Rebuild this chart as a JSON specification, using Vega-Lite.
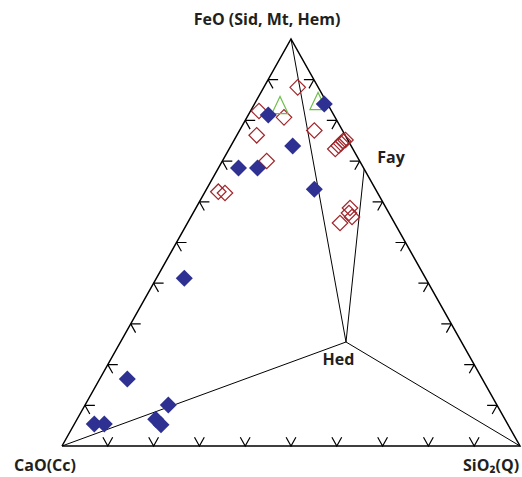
{
  "$schema": "https://vega.github.io/schema/vega-lite/v6.json",
  "width": 458,
  "height": 407,
  "autosize": {"type": "none"},
  "padding": {"left": 62, "top": 39, "right": 2, "bottom": 31},
  "background": "white",
  "config": {"view": {"stroke": null}},
  "datasets": {
    "lines": [
      {"seg": "tri", "ord": 0, "x": 0, "y": 0},
      {"seg": "tri", "ord": 1, "x": 50, "y": 100},
      {"seg": "tri", "ord": 2, "x": 100, "y": 0},
      {"seg": "tri", "ord": 3, "x": 0, "y": 0}
    ],
    "inner": [
      {"seg": "a", "ord": 0, "x": 50, "y": 100},
      {"seg": "a", "ord": 1, "x": 62.01, "y": 25.55},
      {"seg": "b", "ord": 0, "x": 65.97, "y": 68.06},
      {"seg": "b", "ord": 1, "x": 62.01, "y": 25.55},
      {"seg": "c", "ord": 0, "x": 0, "y": 0},
      {"seg": "c", "ord": 1, "x": 62.01, "y": 25.55},
      {"seg": "c", "ord": 2, "x": 100, "y": 0}
    ],
    "ticks": [
      {"edge": "L", "x": 5, "y": 10}, {"edge": "L", "x": 10, "y": 20}, {"edge": "L", "x": 15, "y": 30},
      {"edge": "L", "x": 20, "y": 40}, {"edge": "L", "x": 25, "y": 50}, {"edge": "L", "x": 30, "y": 60},
      {"edge": "L", "x": 35, "y": 70}, {"edge": "L", "x": 40, "y": 80}, {"edge": "L", "x": 45, "y": 90},
      {"edge": "R", "x": 95, "y": 10}, {"edge": "R", "x": 90, "y": 20}, {"edge": "R", "x": 85, "y": 30},
      {"edge": "R", "x": 80, "y": 40}, {"edge": "R", "x": 75, "y": 50}, {"edge": "R", "x": 70, "y": 60},
      {"edge": "R", "x": 65, "y": 70}, {"edge": "R", "x": 60, "y": 80}, {"edge": "R", "x": 55, "y": 90},
      {"edge": "B", "x": 10, "y": 0}, {"edge": "B", "x": 20, "y": 0}, {"edge": "B", "x": 30, "y": 0},
      {"edge": "B", "x": 40, "y": 0}, {"edge": "B", "x": 50, "y": 0}, {"edge": "B", "x": 60, "y": 0},
      {"edge": "B", "x": 70, "y": 0}, {"edge": "B", "x": 80, "y": 0}, {"edge": "B", "x": 90, "y": 0}
    ],
    "red": [
      {"x": 51.46, "y": 88.13}, {"x": 43.01, "y": 82.31}, {"x": 48.47, "y": 80.76},
      {"x": 42.51, "y": 76.34}, {"x": 55.09, "y": 77.52}, {"x": 44.69, "y": 70.02},
      {"x": 34.13, "y": 62.48}, {"x": 35.59, "y": 62.16},
      {"x": 59.67, "y": 72.97}, {"x": 60.41, "y": 73.78}, {"x": 60.92, "y": 74.37},
      {"x": 61.35, "y": 74.94}, {"x": 61.9, "y": 75.18},
      {"x": 62.88, "y": 58.48}, {"x": 62.66, "y": 57.25}, {"x": 63.32, "y": 56.27}, {"x": 60.7, "y": 54.79}
    ],
    "green": [
      {"x": 47.6, "y": 83.78}, {"x": 55.9, "y": 84.77}
    ],
    "blue": [
      {"x": 45.04, "y": 81.33}, {"x": 57.27, "y": 84.03}, {"x": 50.37, "y": 73.71},
      {"x": 38.54, "y": 68.3}, {"x": 42.69, "y": 68.3}, {"x": 55.09, "y": 63.07},
      {"x": 26.7, "y": 41.2}, {"x": 14.26, "y": 16.46}, {"x": 7.05, "y": 5.41},
      {"x": 9.24, "y": 5.41}, {"x": 23.21, "y": 10.07}, {"x": 20.46, "y": 6.56}, {"x": 21.62, "y": 5.23}
    ],
    "labels": [
      {"label": "FeO (Sid, Mt, Hem)", "x": 44.76, "y": 103.44},
      {"label": "Fay", "x": 71.83, "y": 69.46},
      {"label": "Hed", "x": 60.37, "y": 19.9},
      {"label": "CaO(Cc)", "x": -3.71, "y": -6.14},
      {"label": "SiO₂(Q)", "x": 93.67, "y": -6.14}
    ]
  },
  "encoding": {
    "x": {"field": "x", "type": "quantitative", "scale": {"domain": [0, 100], "nice": false, "zero": false}, "axis": null},
    "y": {"field": "y", "type": "quantitative", "scale": {"domain": [0, 100], "nice": false, "zero": false}, "axis": null}
  },
  "layer": [
    {
      "data": {"name": "inner"},
      "mark": {"type": "line", "stroke": "#000000", "strokeWidth": 1},
      "encoding": {"detail": {"field": "seg"}, "order": {"field": "ord", "type": "quantitative"}}
    },
    {
      "data": {"name": "lines"},
      "mark": {"type": "line", "stroke": "#000000", "strokeWidth": 1.5},
      "encoding": {"detail": {"field": "seg"}, "order": {"field": "ord", "type": "quantitative"}}
    },
    {
      "data": {"name": "ticks"},
      "mark": {"type": "point", "filled": false, "stroke": "#000000", "strokeWidth": 1.2, "size": 400, "opacity": 1},
      "encoding": {
        "shape": {"field": "edge", "type": "nominal", "legend": null,
          "scale": {"domain": ["L", "R", "B"], "range": ["M0,0L1,0M0,0L0.49,0.87", "M0,0L-1,0M0,0L-0.49,0.87", "M-0.49,-0.87L0,0L0.49,-0.87"]}}
      }
    },
    {
      "data": {"name": "red"},
      "mark": {"type": "point", "shape": "diamond", "filled": false, "stroke": "#a1262b", "strokeWidth": 1.2, "size": 240, "opacity": 1}
    },
    {
      "data": {"name": "green"},
      "mark": {"type": "point", "shape": "M0,-0.95L-0.9,0.95L0.9,0.95Z", "filled": false, "stroke": "#6cbf4a", "strokeWidth": 1.2, "size": 324, "opacity": 1}
    },
    {
      "data": {"name": "blue"},
      "mark": {"type": "point", "shape": "diamond", "filled": true, "fill": "#2e3192", "stroke": null, "size": 290, "opacity": 1}
    },
    {
      "data": {"name": "labels"},
      "mark": {"type": "text", "font": "Open Sans", "fontWeight": "bold", "fontSize": 16, "fill": "#231f20", "align": "center", "baseline": "alphabetic"},
      "encoding": {"text": {"field": "label"}}
    }
  ]
}
